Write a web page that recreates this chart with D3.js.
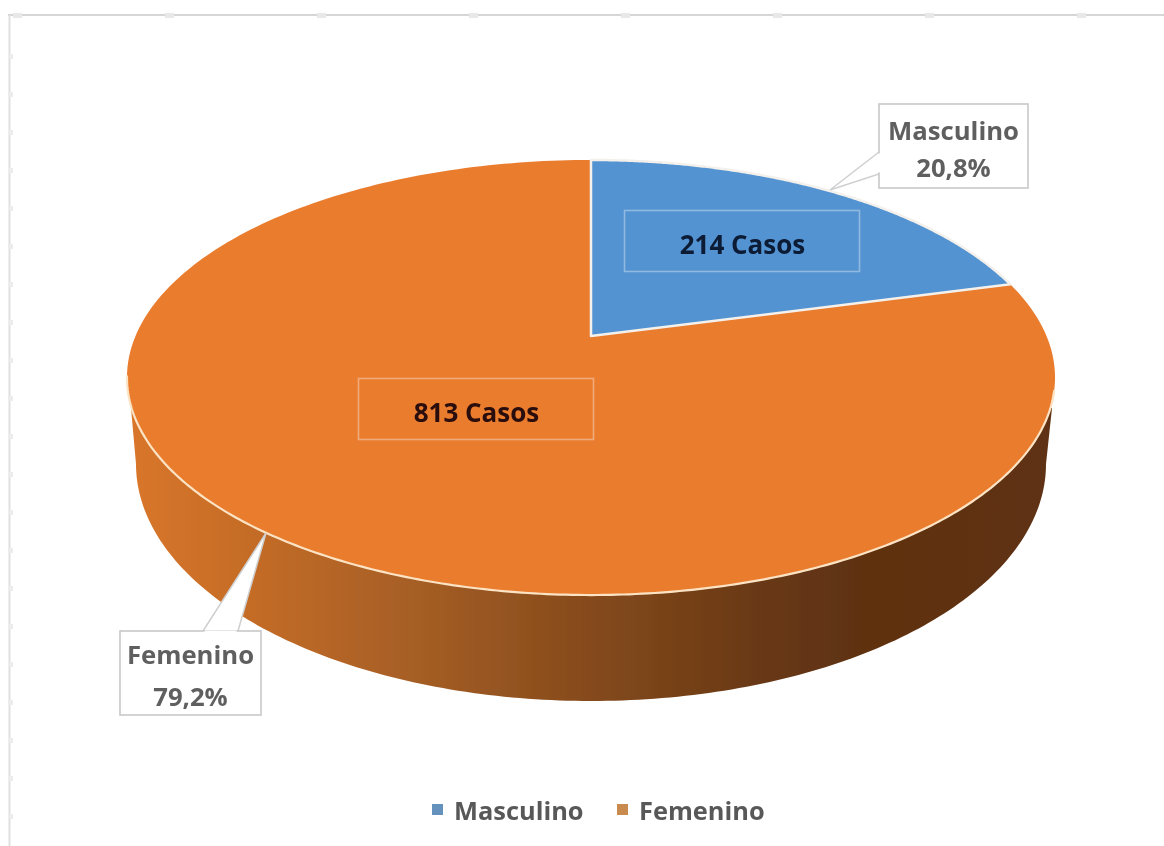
<!DOCTYPE html>
<html><head><meta charset="utf-8">
<script src="https://cdn.jsdelivr.net/npm/d3@7"></script>
<style>html,body{margin:0;padding:0;background:#fff;overflow:hidden}text{font-family:"Open Sans",sans-serif;font-weight:700}</style>
</head><body><svg id="c" width="1164" height="846"></svg>
<script>
const categories = ["Masculino", "Femenino"];
const casos = [214, 813];
const porcentajes = ["20,8%", "79,2%"];
const casoLabels = ["214 Casos", "813 Casos"];
const topColors = ["#5393d1", "#ea7c2f"];
const legendColors = ["#6592bd", "#c88b4d"];

const root = d3.select("#c");
const defs = root.append("defs");
defs.append("filter").attr("id", "soft").attr("x", 0).attr("y", 0).attr("width", 1).attr("height", 1)
  .append("feGaussianBlur").attr("stdDeviation", 0.55);
const svg = root.append("g").attr("filter", "url(#soft)");
svg.append("rect").attr("width", 1164).attr("height", 846).attr("fill", "#fff");

// perspective projection of the pie's unit circle
const cx = 591, cyApex = 336, a = 455.5, b = 145.5, k = -0.1908;
const px = t => { const u = Math.sin(t), v = -Math.cos(t), d = 1 + k * v; return [cx + a * u / d, (b * v + cyApex) / d]; };
const sample = (t0, t1, n = 240) => d3.range(n + 1).map(i => px(t0 + (t1 - t0) * i / n));
const line = d3.line();

// ruler
const ruler = svg.append("g");
ruler.append("line").attr("x1", 8).attr("x2", 1164).attr("y1", 15).attr("y2", 15).attr("stroke", "#d6d6d6").attr("stroke-width", 2);
ruler.append("line").attr("x1", 9.5).attr("x2", 9.5).attr("y1", 15).attr("y2", 846).attr("stroke", "#e0e0e0").attr("stroke-width", 2);
ruler.selectAll(".tx").data(d3.range(13, 1164, 152)).join("rect").attr("x", d => d).attr("y", 13).attr("width", 9).attr("height", 5).attr("fill", "#e8e8e8");
ruler.selectAll(".ty").data(d3.range(54, 846, 38)).join("rect").attr("x", 8).attr("y", d => d).attr("width", 5).attr("height", 5).attr("fill", "#ececec");

// side wall
const grad = defs.append("linearGradient").attr("id", "side").attr("gradientUnits", "userSpaceOnUse")
  .attr("x1", 130).attr("x2", 1050).attr("y1", 0).attr("y2", 0);
[[0, "#d9762a"], [0.13, "#c46c27"], [0.3, "#a75f25"], [0.5, "#854a1c"], [0.68, "#693915"], [0.8, "#5e3211"], [1, "#5f3312"]]
  .forEach(([o, c]) => grad.append("stop").attr("offset", o).attr("stop-color", c));
const bx = 591, by = 464, brx = 455, bry = 237;
const bottomArc = d3.range(0, 181).map(i => { const t = i * Math.PI / 180; return [bx + brx * Math.cos(t), by + bry * Math.sin(t)]; });
const sidePts = [[1052, 408], ...bottomArc, [131, 408]];
svg.append("path").attr("d", line(sidePts) + "Z").attr("fill", "url(#side)");

// top face
const pie = d3.pie().sort(null).startAngle(0).endAngle(2 * Math.PI)(casos);
const fem = pie[1], mas = pie[0];
svg.append("path").datum(fem)
  .attr("d", d => line([[cx, cyApex], ...sample(d.startAngle, d.endAngle)]) + "Z")
  .attr("fill", topColors[1]);
svg.append("path").datum(mas)
  .attr("d", d => line([[cx, cyApex], ...sample(d.startAngle, d.endAngle)]) + "Z")
  .attr("fill", topColors[0]).attr("stroke", "#f4f1ec").attr("stroke-width", 2.5).attr("stroke-linejoin", "round");
// front rim highlight
const rimA = 1.82, rimB = 4.53;
svg.append("path").attr("d", line(sample(rimA, rimB))).attr("fill", "none").attr("stroke", "#fbe3c4").attr("stroke-width", 2.2);

// inner labels
const inner = [[624, 210], [358, 378]];
const inW = 235, inH = 61;
const inG = svg.selectAll(".inner").data(casoLabels).join("g").attr("transform", (d, i) => `translate(${inner[i]})`);
inG.append("rect").attr("x", .5).attr("y", .5).attr("width", inW).attr("height", inH).attr("fill", "none")
  .attr("stroke", "#fff").attr("stroke-opacity", .36).attr("stroke-width", 1.6);
inG.append("text").attr("x", inW / 2 + 1).attr("y", 44).attr("text-anchor", "middle").attr("font-size", 26)
  .attr("fill", (d, i) => i ? "#2b0b08" : "#0d1a35").text(d => d);

// callouts
const boxes = [
  { x: 879, y: 104, w: 149, h: 84, y1: 36, y2: 73, path: [[879, 152], [830, 190], [879, 174]] },
  { x: 120, y: 631, w: 141, h: 84, y1: 33, y2: 75, path: [[203, 631], [266, 533], [238, 631]] }
];
const cal = svg.selectAll(".cal").data(boxes).join("g");
cal.append("path").attr("d", d => line(d.path) + "Z").attr("fill", "#fff").attr("stroke", "#cfcfcf").attr("stroke-width", 1.5);
cal.append("rect").attr("x", d => d.x).attr("y", d => d.y).attr("width", d => d.w).attr("height", d => d.h)
  .attr("fill", "#fff").attr("stroke", "#c8c8c8").attr("stroke-width", 1.6);
cal.append("path").attr("d", (d, i) => i ? "M204.5 631.8H236.5" : "M879 153.5V172.5").attr("stroke", "#fff").attr("stroke-width", 2.4);
cal.append("text").attr("x", d => d.x + d.w / 2).attr("y", d => d.y + d.y1).attr("text-anchor", "middle")
  .attr("font-size", 25.7).attr("fill", "#5f5f5f").text((d, i) => categories[i]);
cal.append("text").attr("x", d => d.x + d.w / 2).attr("y", d => d.y + d.y2).attr("text-anchor", "middle")
  .attr("font-size", 25.7).attr("fill", "#5f5f5f").text((d, i) => porcentajes[i]);

// legend
const legX = [432, 617];
const leg = svg.selectAll(".leg").data(categories).join("g").attr("transform", (d, i) => `translate(${legX[i]},804)`);
leg.append("rect").attr("width", 11).attr("height", 11).attr("fill", (d, i) => legendColors[i]);
leg.append("text").attr("x", 22).attr("y", 16).attr("font-size", 25.4).attr("fill", "#595959").text(d => d);
</script></body></html>
